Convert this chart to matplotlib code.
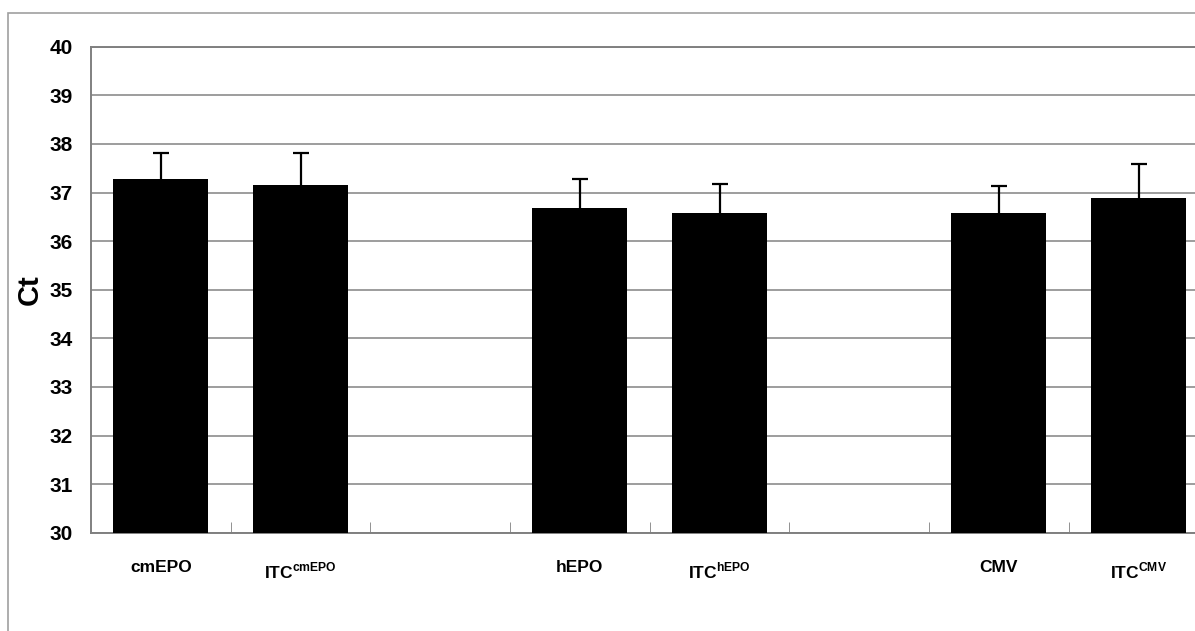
import matplotlib
matplotlib.use('Agg')
import matplotlib.pyplot as plt
from matplotlib.patches import Rectangle

plt.rcParams['font.family'] = ['Liberation Sans', 'DejaVu Sans']
plt.rcParams['mathtext.fontset'] = 'custom'
plt.rcParams['mathtext.rm'] = 'Liberation Sans'
plt.rcParams['mathtext.bf'] = 'Liberation Sans:bold'

labels = ['cmEPO', r'ITC$^{\mathbf{cmEPO}}$', 'hEPO', r'ITC$^{\mathbf{hEPO}}$',
          'CMV', r'ITC$^{\mathbf{CMV}}$']
slots = [0, 1, 3, 4, 6, 7]
means = [37.28, 37.15, 36.68, 36.58, 36.58, 36.88]
errs = [0.54, 0.67, 0.59, 0.60, 0.56, 0.70]
yticks = list(range(30, 41))

fig = plt.figure(figsize=(11.95, 6.31), dpi=100)
ax = fig.add_axes([0.0762, 0.1558, 0.935, 0.770])

ax.bar(slots, [m - 30 for m in means], bottom=30, width=0.68, color='black', zorder=3)
# only the upper half of the error bars
tops = [m + e for m, e in zip(means, errs)]
ax.vlines(slots, means, tops, color='black', linewidth=1.6, zorder=2)
ax.plot(slots, tops, linestyle='none', marker='_', markersize=12,
        markeredgewidth=1.6, color='black', zorder=2)

ax.set_xlim(-0.5, 7.5)
ax.set_ylim(30, 40)
ax.set_yticks(yticks)
ax.set_yticklabels([str(t) for t in yticks], fontsize=15, fontweight='bold')
ax.tick_params(axis='y', length=0, pad=13)
ax.set_xticks(slots)
ax.set_xticklabels(labels, fontsize=12.5, fontweight='bold')
ax.tick_params(axis='x', which='major', length=0, pad=20)
ax.set_xticks([i + 0.5 for i in range(7)], minor=True)
ax.tick_params(axis='x', which='minor', direction='in', length=8, color='#808080')

ax.grid(axis='y', color='#8c8c8c', linewidth=1.2, zorder=0)
ax.spines['right'].set_visible(False)
for s in ['left', 'bottom', 'top']:
    ax.spines[s].set_color('#808080')
    ax.spines[s].set_linewidth(1.4)

ax.set_ylabel('Ct', fontsize=21, fontweight='bold', labelpad=4)

fig.patches.append(Rectangle((8 / 1195, -0.2), 1.2, 1.2 - 12.7 / 631, fill=False,
                             edgecolor='#a0a0a0', linewidth=1.2,
                             transform=fig.transFigure))

fig.savefig('out.png', dpi=100)
